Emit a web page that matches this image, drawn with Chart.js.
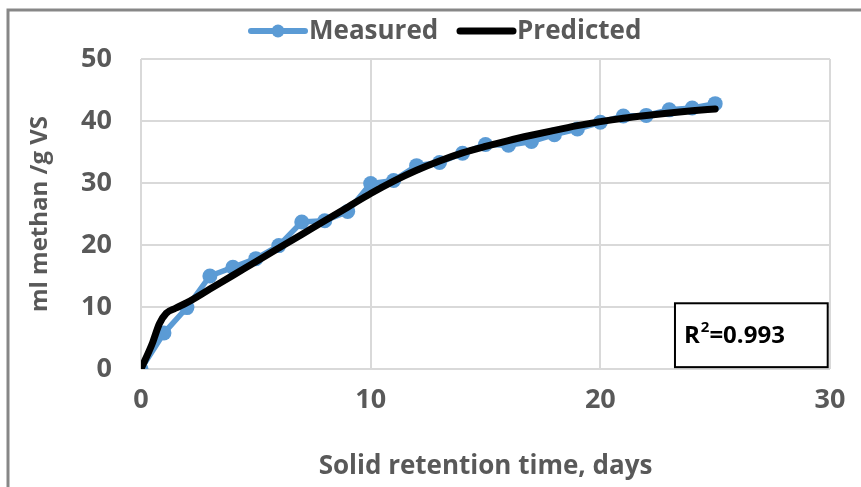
<!DOCTYPE html>
<html>
<head>
<meta charset="utf-8">
<script src="https://cdn.jsdelivr.net/npm/chart.js@4"></script>
<style>
  body { margin: 0; background: #fff; }
  #wrap { width: 861px; height: 487px; }
</style>
</head>
<body>
<div id="wrap"><canvas id="chart" width="861" height="487"></canvas></div>
<script>
// measured methane yield (ml/g VS) against solid retention time (days)
var measuredDays = [0,1,2,3,4,5,6,7,8,9,10,11,12,13,14,15,16,17,18,19,20,21,22,23,24,25];
var measuredYield = [0,5.8,9.9,15,16.4,17.8,19.9,23.7,23.9,25.4,29.9,30.4,32.8,33.3,34.8,36.2,36.1,36.7,37.8,38.7,39.8,40.8,40.9,41.8,42.1,42.8];

var predictedDays = [0,0.5,0.8,1.1,1.5,2,3,4,5,6,7,8,9,10,11,12,13,14,15,16,17,18,19,20,21,22,23,24,25];
var predictedYield = [0,4.2,7.3,9.0,9.8,10.7,12.9,15.1,17.3,19.5,21.7,23.9,26.1,28.3,30.3,32.05,33.55,34.85,35.9,36.85,37.7,38.5,39.25,39.9,40.45,40.9,41.3,41.65,41.95];

var xTicks = [0, 10, 20, 30];
var yTicks = [0, 10, 20, 30, 40, 50];

var grey = "#595959";
var blue = "#5b9bd5";
var fontFam = "'Open Sans', sans-serif";

function toPoints(xs, ys) {
  return xs.map(function (x, i) { return { x: x, y: ys[i] }; });
}

// frame, legend and R2 box
var extras = {
  id: "extras",
  beforeDraw: function (chart) {
    var ctx = chart.ctx;
    ctx.save();
    ctx.fillStyle = "#fff";
    ctx.fillRect(0, 0, chart.width, chart.height);
    ctx.strokeStyle = "#878787";
    ctx.lineWidth = 3;
    ctx.beginPath();
    ctx.moveTo(8, chart.height);
    ctx.lineTo(8, 10);
    ctx.lineTo(chart.width, 10);
    ctx.stroke();
    ctx.restore();
  },
  afterDraw: function (chart) {
    var ctx = chart.ctx;
    var xs = chart.scales.x, ys = chart.scales.y;
    ctx.save();
    // legend
    ctx.font = "bold 26px " + fontFam;
    ctx.textBaseline = "middle";
    ctx.lineCap = "round";
    var ly = 31;
    ctx.strokeStyle = blue;
    ctx.lineWidth = 6;
    ctx.beginPath(); ctx.moveTo(251, ly); ctx.lineTo(305, ly); ctx.stroke();
    ctx.fillStyle = blue;
    ctx.beginPath(); ctx.arc(278, ly, 6.5, 0, Math.PI * 2); ctx.fill();
    ctx.fillStyle = grey;
    ctx.fillText("Measured", 309, ly + 1);
    ctx.strokeStyle = "#000";
    ctx.lineWidth = 7;
    ctx.beginPath(); ctx.moveTo(460, ly); ctx.lineTo(513, ly); ctx.stroke();
    ctx.fillText("Predicted", 517, ly + 1);

    // R2 box
    var bx = xs.getPixelForValue(23.25), bx2 = xs.getPixelForValue(29.9);
    var by = ys.getPixelForValue(10.6), by2 = ys.getPixelForValue(0.3);
    ctx.fillStyle = "#fff";
    ctx.fillRect(bx, by, bx2 - bx, by2 - by);
    ctx.strokeStyle = "#000";
    ctx.lineWidth = 2;
    ctx.lineCap = "butt";
    ctx.strokeRect(bx, by, bx2 - bx, by2 - by);
    ctx.fillStyle = "#000";
    var cy = (by + by2) / 2 + 1;
    var tx = bx + 9;
    ctx.font = "bold 24px " + fontFam;
    ctx.fillText("R", tx, cy);
    tx += ctx.measureText("R").width + 1;
    ctx.font = "bold 15px " + fontFam;
    ctx.fillText("2", tx, cy - 8);
    tx += ctx.measureText("2").width;
    ctx.font = "bold 24px " + fontFam;
    ctx.fillText("=0.993", tx, cy);
    ctx.restore();
  }
};

new Chart(document.getElementById("chart"), {
  type: "line",
  data: {
    datasets: [
      {
        label: "Measured",
        data: toPoints(measuredDays, measuredYield),
        borderColor: blue,
        backgroundColor: blue,
        borderWidth: 5.5,
        pointRadius: 7.5,
        pointBorderWidth: 0,
        tension: 0,
        order: 2
      },
      {
        label: "Predicted",
        data: toPoints(predictedDays, predictedYield),
        borderColor: "#000",
        borderWidth: 7,
        pointRadius: 0,
        cubicInterpolationMode: "monotone",
        borderCapStyle: "round",
        order: 1
      }
    ]
  },
  options: {
    responsive: false,
    animation: false,
    layout: { padding: { left: 10, right: 31, top: 59, bottom: 5 } },
    plugins: {
      legend: { display: false },
      tooltip: { enabled: false }
    },
    scales: {
      x: {
        type: "linear",
        min: 0, max: 30,
        afterBuildTicks: function (s) { s.ticks = xTicks.map(function (v) { return { value: v }; }); },
        grid: { color: "#d9d9d9", lineWidth: 2, drawTicks: false },
        border: { display: false },
        ticks: { color: grey, font: { family: fontFam, size: 27, weight: "bold" }, padding: 15 },
        title: { display: true, text: "Solid retention time, days", color: grey,
                 font: { family: fontFam, size: 26, weight: "bold" }, padding: { top: 20, bottom: 0 } },
        afterFit: function (s) { s.height = 113; }
      },
      y: {
        min: 0, max: 50,
        afterBuildTicks: function (s) { s.ticks = yTicks.map(function (v) { return { value: v }; }); },
        grid: { color: "#d9d9d9", lineWidth: 2, drawTicks: false },
        border: { display: false },
        ticks: { color: grey, font: { family: fontFam, size: 27, weight: "bold" }, padding: 29 },
        title: { display: true, text: "ml methan /g VS", color: grey,
                 font: { family: fontFam, size: 24, weight: "bold" }, padding: { top: 16, bottom: 10 } },
        afterFit: function (s) { s.width = 131; }
      }
    }
  },
  plugins: [extras]
});
</script>
</body>
</html>
